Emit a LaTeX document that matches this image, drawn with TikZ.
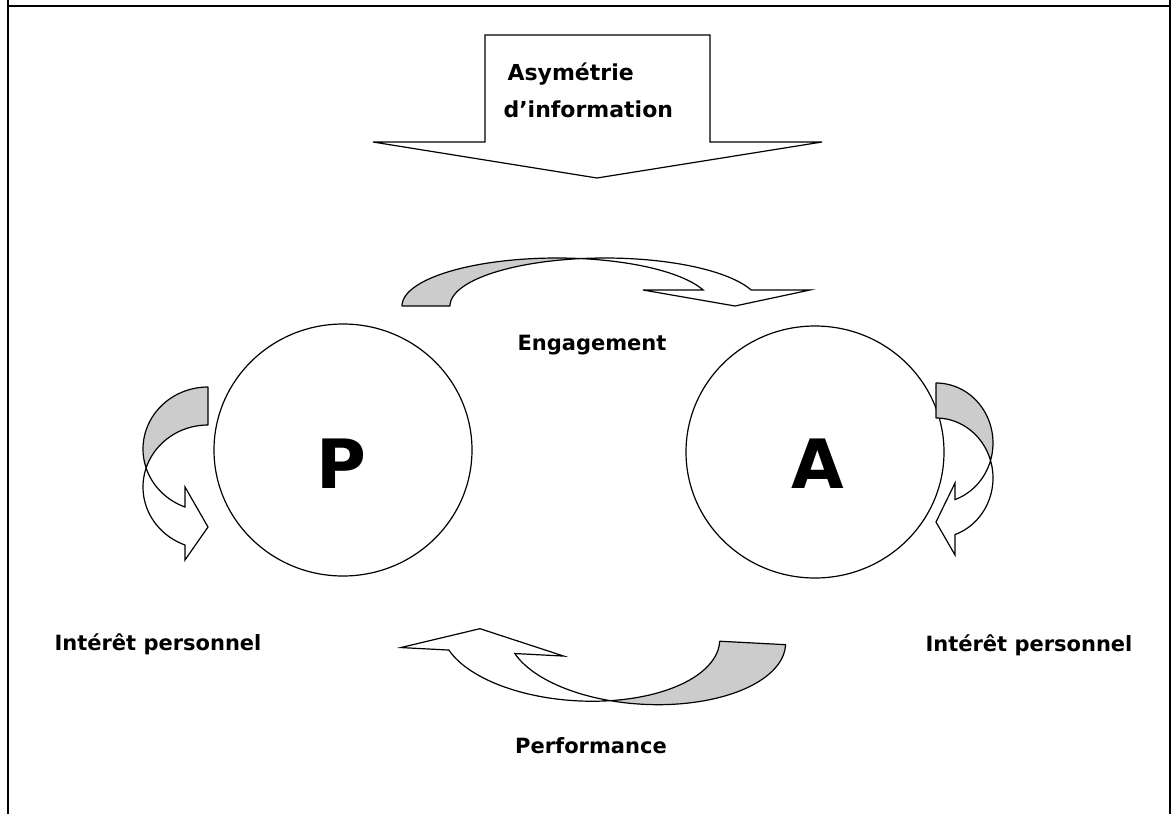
\documentclass[tikz,border=0pt]{standalone}
\usepackage{fontspec}
\setmainfont{DejaVu Sans}
\usepackage{tikz}
\usetikzlibrary{positioning}

\begin{document}
\begin{tikzpicture}[x=1pt, y=-1pt, line width=1.2pt, samples=40]
\tikzstyle{grayband}=[draw, fill=black!20, line join=round]
\tikzstyle{whiteband}=[draw, fill=white, line join=miter]
\tikzstyle{lbl}=[font=\fontsize{21}{25}\selectfont\bfseries, inner sep=0pt, anchor=base]
\tikzstyle{toplbl}=[font=\fontsize{22}{26}\selectfont\bfseries, inner sep=0pt, anchor=base west]
\tikzstyle{big}=[font=\fontsize{68}{80}\selectfont\bfseries, inner sep=0pt, anchor=base]
\useasboundingbox (0,0) rectangle (1171,814);

% frame
\draw[line width=2pt] (7.5,0) -- (7.5,814) (7.5,5.5) -- (1171,5.5) (1170,0) -- (1170,814);

% down arrow
\draw[whiteband] (485,35) -- (710,35) -- (710,142) -- (822,142) -- (597,178) -- (373,142) -- (485,142) -- cycle;
\node[toplbl] (asym) at (507,80) {Asymétrie};
\node[toplbl] (info) at (503,117) {d’information};

% the two parties
\draw (343,450) ellipse [x radius=129, y radius=126];
\draw (815,452) ellipse [x radius=129, y radius=126];
\node[big] (p) at (341,488) {P};
\node[big] (a) at (818,488) {A};

% engagement
\draw[grayband] plot[domain=180:278.91] ({557+155*cos(\x)},{306+48*sin(\x)}) -- plot[domain=261.09:180] ({605+155*cos(\x)},{306+48*sin(\x)}) -- cycle;
\draw[whiteband] plot[domain=261.09:340.53] ({605+155*cos(\x)},{306+48*sin(\x)}) -- (810,290) -- (735,306) -- (643,290) -- plot[domain=340.53:278.91] ({557+155*cos(\x)},{306+48*sin(\x)}) -- cycle;
\node[lbl] (eng) at (592,350) {Engagement};

% self interest, P
\draw[grayband] plot[domain=270:162.15] ({208+65*cos(\x)},{449+62*sin(\x)}) -- plot[domain=197.85:270] ({208+65*cos(\x)},{487+62*sin(\x)}) -- cycle;
\draw[whiteband] plot[domain=197.85:110.72] ({208+65*cos(\x)},{487+62*sin(\x)}) -- (185,560) -- (208,527) -- (185,487) -- plot[domain=110.72:162.15] ({208+65*cos(\x)},{449+62*sin(\x)}) -- cycle;
\node[lbl] (intp) at (158,650) {Intérêt personnel};

% self interest, A
\draw[grayband] plot[domain=-90:16.96] ({936+57*cos(\x)},{443+60*sin(\x)}) -- plot[domain=-16.96:-90] ({936+57*cos(\x)},{478+60*sin(\x)}) -- cycle;
\draw[whiteband] plot[domain=-16.96:70.53] ({936+57*cos(\x)},{478+60*sin(\x)}) -- (955,555) -- (936,522) -- (955,483) -- plot[domain=70.53:16.96] ({936+57*cos(\x)},{443+60*sin(\x)}) -- cycle;
\node[lbl] (inta) at (1029,651) {Intérêt personnel};

% performance
\begin{scope}[rotate around={-3:(600,670)}]
\draw[grayband] plot[domain=0:103.71] ({644.8+139.2*cos(\x)},{635+67*sin(\x)}) -- plot[domain=76.29:0] ({578.8+139.2*cos(\x)},{635+67*sin(\x)}) -- cycle;
\draw[whiteband] plot[domain=76.29:159.92] ({578.8+139.2*cos(\x)},{635+67*sin(\x)}) -- (400,658) -- (478,635) -- (563,658) -- plot[domain=159.92:103.71] ({644.8+139.2*cos(\x)},{635+67*sin(\x)}) -- cycle;
\end{scope}
\node[lbl] (perf) at (591,753) {Performance};
\end{tikzpicture}
\end{document}
